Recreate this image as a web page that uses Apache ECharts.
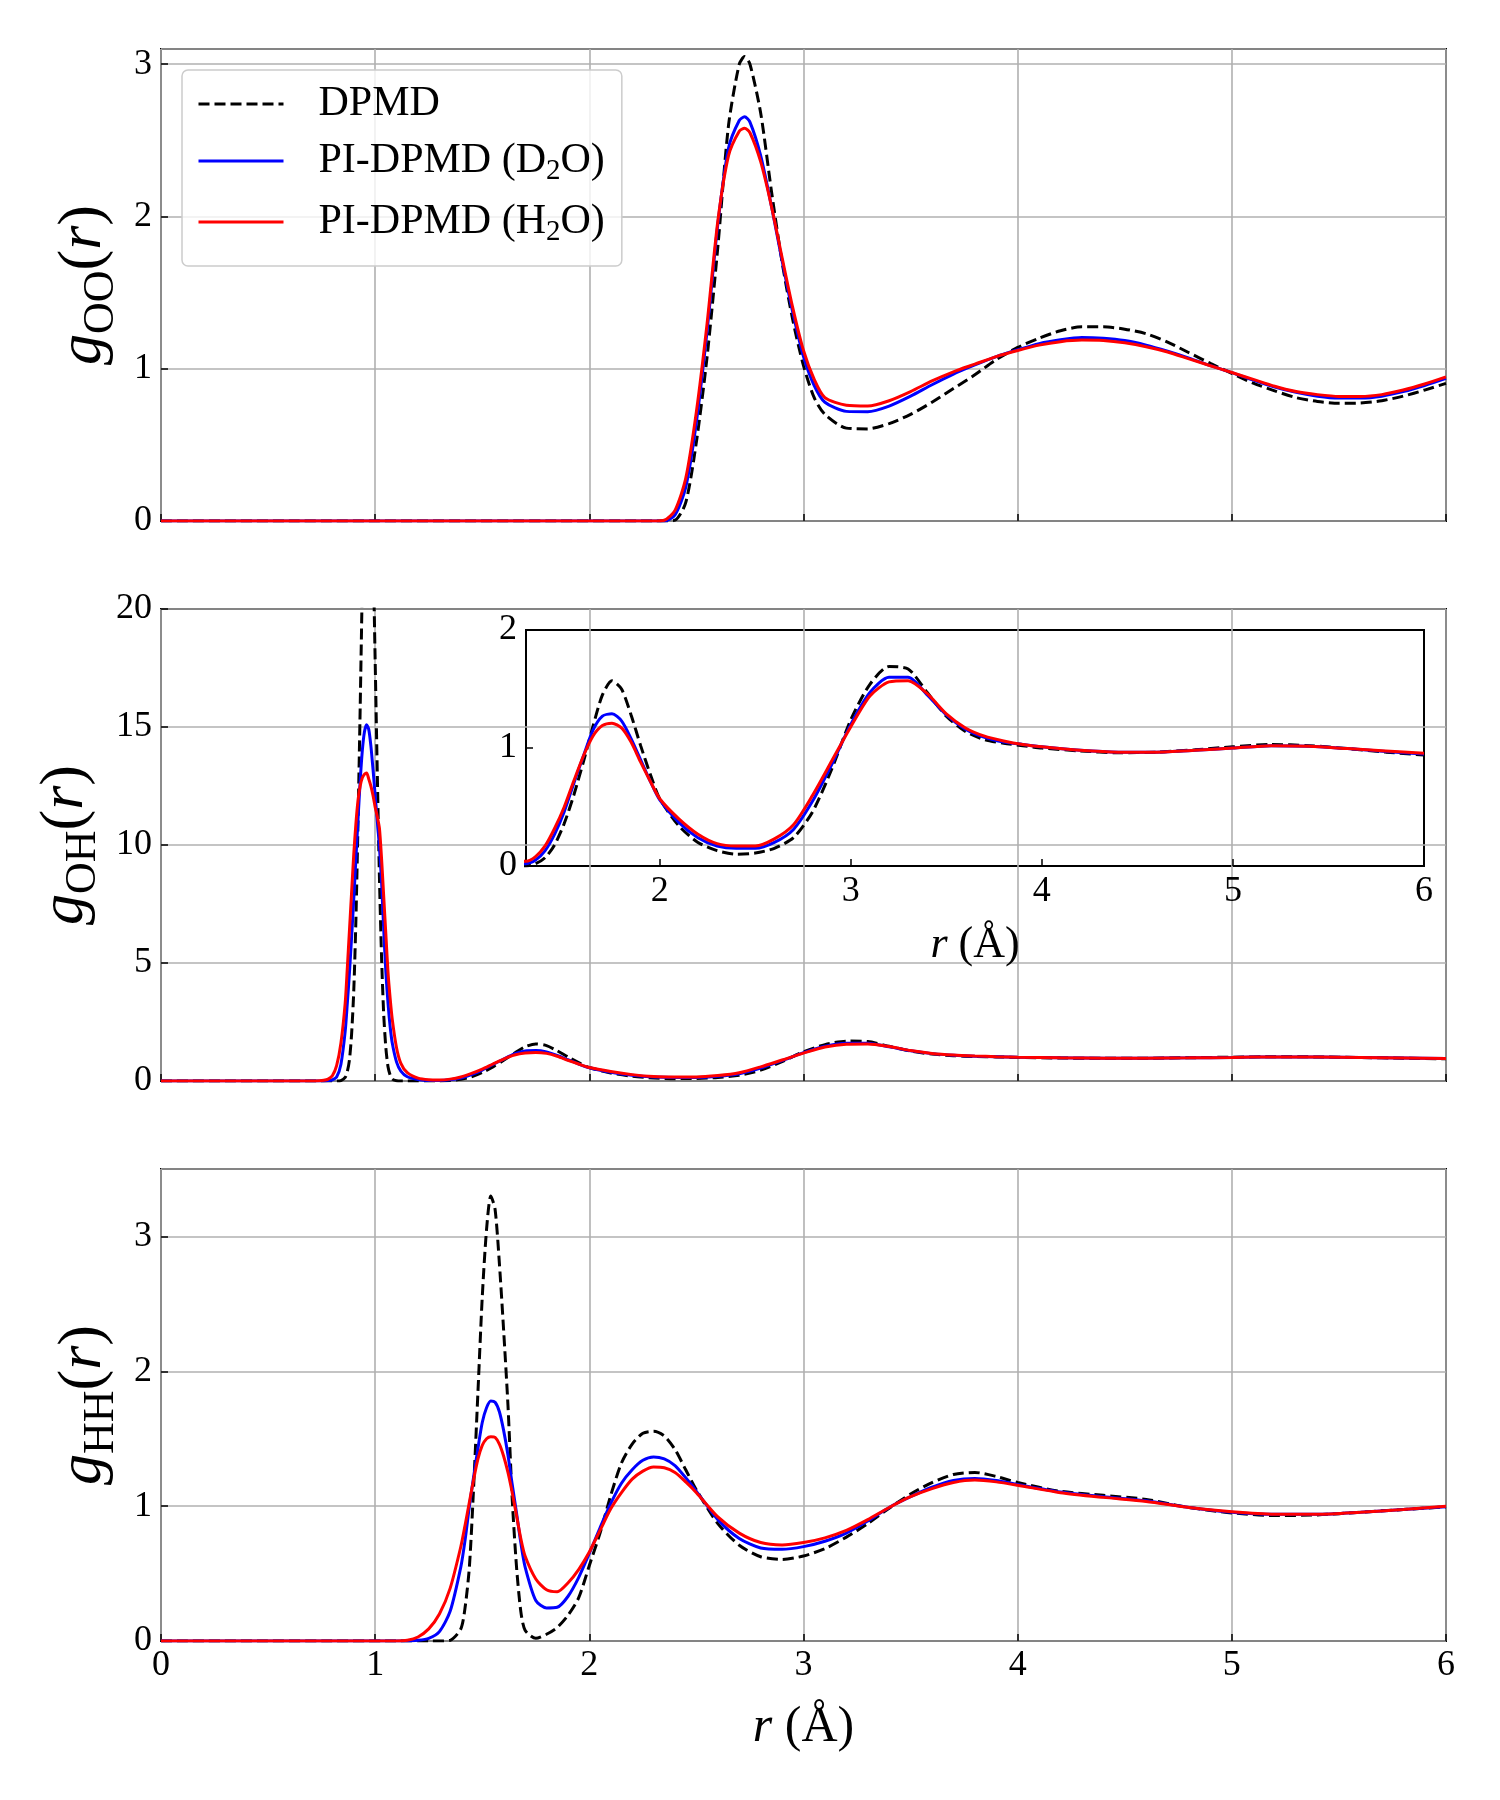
<!DOCTYPE html>
<html>
<head>
<meta charset="utf-8">
<title>Radial distribution functions of water</title>
<script src="https://cdn.jsdelivr.net/npm/echarts@6/dist/echarts.min.js"></script>
<style>
  html, body { margin: 0; padding: 0; background: #fff; }
  #chart { width: 1500px; height: 1800px; }
</style>
</head>
<body>
<div id="chart"></div>
<script>
// ---- data ----
const seriesNames = ['DPMD', 'PI-DPMD (D2O)', 'PI-DPMD (H2O)'];
const insetTicks = [2, 3, 4, 5, 6];

// g_OO(r)
const rOO = [0, 2.30, 2.35, 2.40, 2.45, 2.50, 2.55, 2.60, 2.65, 2.70, 2.725, 2.75, 2.80, 2.85, 2.90, 2.95,
  3.00, 3.05, 3.10, 3.20, 3.30, 3.40, 3.50, 3.60, 3.70, 3.80, 3.90, 4.00, 4.10, 4.20, 4.30, 4.40, 4.50,
  4.60, 4.70, 4.80, 4.90, 5.00, 5.10, 5.20, 5.30, 5.40, 5.50, 5.60, 5.70, 5.80, 5.90, 6.00];
const ooDPMD = [0, 0, 0, 0.005, 0.12, 0.52, 1.08, 1.8, 2.6, 3.0, 3.05, 3.0, 2.68, 2.17, 1.7, 1.32,
  1.02, 0.81, 0.7, 0.61, 0.605, 0.64, 0.7, 0.78, 0.87, 0.96, 1.06, 1.14, 1.2, 1.25, 1.275, 1.275, 1.26,
  1.23, 1.175, 1.105, 1.035, 0.97, 0.905, 0.855, 0.81, 0.785, 0.773, 0.775, 0.79, 0.82, 0.86, 0.904];
const ooD2O = [0, 0, 0, 0.04, 0.22, 0.65, 1.25, 1.95, 2.45, 2.63, 2.655, 2.62, 2.4, 2.07, 1.71, 1.37,
  1.08, 0.89, 0.78, 0.72, 0.718, 0.755, 0.82, 0.895, 0.965, 1.025, 1.08, 1.125, 1.165, 1.19, 1.205, 1.2, 1.185,
  1.155, 1.115, 1.07, 1.02, 0.975, 0.925, 0.88, 0.845, 0.82, 0.808, 0.808, 0.82, 0.85, 0.89, 0.937];
const ooH2O = [0, 0, 0.005, 0.07, 0.28, 0.72, 1.3, 1.97, 2.4, 2.56, 2.58, 2.55, 2.36, 2.07, 1.73, 1.4,
  1.12, 0.93, 0.81, 0.76, 0.755, 0.79, 0.85, 0.92, 0.98, 1.03, 1.08, 1.12, 1.155, 1.178, 1.188, 1.185, 1.17,
  1.145, 1.11, 1.065, 1.02, 0.975, 0.93, 0.885, 0.85, 0.83, 0.818, 0.818, 0.83, 0.86, 0.9, 0.947];

// g_OH(r)
const rOH = [0, 0.70, 0.74, 0.76, 0.78, 0.80, 0.82, 0.84, 0.86, 0.87, 0.88, 0.89, 0.90, 0.91, 0.92, 0.93,
  0.94, 0.95, 0.96, 0.97, 0.98, 0.99, 1.00, 1.01, 1.02, 1.03, 1.04, 1.05, 1.06, 1.07, 1.08, 1.10, 1.12,
  1.15, 1.20, 1.25, 1.30, 1.35, 1.40, 1.45, 1.50, 1.55, 1.60, 1.65, 1.70, 1.75, 1.80, 1.85, 1.90, 1.95,
  2.00, 2.10, 2.20, 2.30, 2.40, 2.50, 2.60, 2.70, 2.80, 2.90, 3.00, 3.10, 3.20, 3.30, 3.40, 3.50, 3.60,
  3.70, 3.80, 3.90, 4.00, 4.20, 4.40, 4.60, 4.80, 5.00, 5.20, 5.40, 5.60, 5.80, 6.00];
const ohDPMD = [0, 0, 0, 0, 0, 0, 0, 0.02, 0.15, 0.4, 0.9, 2.0, 3.8, 6.8, 11.0, 15.8,
  21.0, 25.3, 27.8, 28.0, 26.2, 22.5, 17.8, 13.0, 8.6, 5.2, 2.8, 1.4, 0.6, 0.25, 0.08, 0.01, 0,
  0, 0, 0, 0, 0.02, 0.07, 0.18, 0.36, 0.6, 0.88, 1.18, 1.45, 1.57, 1.5, 1.28, 1.02, 0.78,
  0.57, 0.34, 0.2, 0.13, 0.1, 0.11, 0.15, 0.24, 0.46, 0.82, 1.24, 1.54, 1.69, 1.67, 1.47, 1.27, 1.14,
  1.07, 1.04, 1.02, 1.0, 0.975, 0.96, 0.965, 0.985, 1.01, 1.03, 1.02, 0.995, 0.965, 0.94];
const ohD2O = [0, 0, 0, 0.005, 0.02, 0.05, 0.17, 0.7, 2.1, 3.3, 4.6, 6.1, 7.7, 9.4, 11.1, 12.7,
  14.0, 14.8, 15.1, 14.9, 14.2, 13.2, 12.1, 11.0, 9.9, 8.4, 6.4, 4.6, 3.3, 2.3, 1.6, 0.8, 0.42,
  0.18, 0.06, 0.02, 0.02, 0.05, 0.13, 0.27, 0.46, 0.7, 0.93, 1.15, 1.27, 1.29, 1.23, 1.08, 0.9, 0.72,
  0.56, 0.37, 0.24, 0.17, 0.15, 0.15, 0.2, 0.31, 0.55, 0.86, 1.2, 1.47, 1.6, 1.6, 1.45, 1.28, 1.16,
  1.09, 1.05, 1.03, 1.01, 0.98, 0.965, 0.965, 0.98, 1.0, 1.02, 1.015, 0.995, 0.97, 0.95];
const ohH2O = [0, 0, 0.01, 0.03, 0.08, 0.22, 0.65, 1.6, 3.3, 4.8, 6.4, 8.0, 9.6, 10.9, 11.9, 12.5,
  12.85, 13.0, 13.05, 12.8, 12.5, 12.1, 11.6, 11.2, 10.7, 9.4, 7.8, 6.2, 4.6, 3.5, 2.6, 1.4, 0.75,
  0.35, 0.12, 0.05, 0.04, 0.08, 0.17, 0.32, 0.5, 0.72, 0.93, 1.1, 1.19, 1.21, 1.17, 1.05, 0.88, 0.72,
  0.57, 0.4, 0.27, 0.19, 0.17, 0.17, 0.23, 0.35, 0.6, 0.89, 1.18, 1.44, 1.56, 1.57, 1.46, 1.29, 1.17,
  1.1, 1.06, 1.03, 1.01, 0.98, 0.965, 0.965, 0.98, 1.0, 1.02, 1.015, 0.995, 0.975, 0.955];

// g_HH(r)
const rHH = [0, 1.10, 1.15, 1.20, 1.25, 1.30, 1.35, 1.40, 1.42, 1.44, 1.46, 1.48, 1.50, 1.52, 1.54, 1.56,
  1.58, 1.60, 1.62, 1.64, 1.66, 1.68, 1.70, 1.75, 1.80, 1.85, 1.90, 1.95, 2.00, 2.05, 2.10, 2.15, 2.20,
  2.25, 2.30, 2.35, 2.40, 2.45, 2.50, 2.60, 2.70, 2.80, 2.90, 3.00, 3.10, 3.20, 3.30, 3.40, 3.50, 3.60,
  3.70, 3.80, 3.90, 4.00, 4.20, 4.40, 4.60, 4.80, 5.00, 5.20, 5.40, 5.60, 5.80, 6.00];
const hhDPMD = [0, 0, 0, 0, 0, 0, 0.005, 0.09, 0.25, 0.55, 1.15, 1.85, 2.55, 3.05, 3.3, 3.2,
  2.8, 2.3, 1.75, 1.05, 0.55, 0.22, 0.08, 0.02, 0.05, 0.1, 0.19, 0.32, 0.56, 0.8, 1.08, 1.32, 1.46,
  1.54, 1.555, 1.52, 1.42, 1.27, 1.12, 0.87, 0.71, 0.625, 0.605, 0.63, 0.685, 0.77, 0.87, 0.985, 1.09, 1.175,
  1.235, 1.25, 1.22, 1.175, 1.11, 1.08, 1.05, 0.99, 0.95, 0.93, 0.935, 0.955, 0.975, 0.995];
const hhD2O = [0, 0, 0, 0.005, 0.02, 0.07, 0.22, 0.55, 0.75, 1.0, 1.22, 1.43, 1.62, 1.73, 1.78, 1.77,
  1.7, 1.56, 1.38, 1.16, 0.95, 0.73, 0.55, 0.3, 0.245, 0.25, 0.33, 0.47, 0.65, 0.84, 1.02, 1.17, 1.27,
  1.34, 1.365, 1.35, 1.3, 1.21, 1.11, 0.9, 0.76, 0.69, 0.68, 0.7, 0.74, 0.8, 0.89, 0.99, 1.07, 1.14,
  1.19, 1.205, 1.19, 1.16, 1.105, 1.07, 1.04, 0.99, 0.955, 0.94, 0.94, 0.955, 0.975, 0.995];
const hhH2O = [0, 0, 0.005, 0.03, 0.09, 0.2, 0.39, 0.7, 0.86, 1.03, 1.2, 1.35, 1.45, 1.5, 1.515, 1.51,
  1.46, 1.37, 1.25, 1.1, 0.93, 0.76, 0.63, 0.46, 0.38, 0.365, 0.43, 0.53, 0.66, 0.82, 0.98, 1.1, 1.2,
  1.26, 1.29, 1.285, 1.25, 1.18, 1.1, 0.92, 0.8, 0.73, 0.712, 0.73, 0.765, 0.82, 0.9, 0.99, 1.07, 1.13,
  1.175, 1.193, 1.18, 1.155, 1.1, 1.065, 1.035, 0.99, 0.958, 0.94, 0.94, 0.955, 0.975, 1.0];

// ---- chart ----
const FONT = 'Liberation Serif';
const colors = ['#000000', '#0000ff', '#ff0000'];
const dashes = [[11, 5], 'solid', 'solid'];

const pairs = (r, g) => r.map((x, i) => [x, g[i]]);

function curve(k, r, g, axis) {
  return {
    name: seriesNames[k],
    type: 'line',
    xAxisIndex: axis,
    yAxisIndex: axis,
    data: pairs(r, g),
    symbol: 'none',
    smooth: 0.25,
    clip: true,
    lineStyle: { color: colors[k], width: 3, type: dashes[k] },
    itemStyle: { color: colors[k] },
    z: 3 + k,
  };
}

const tickStyle = { show: true, inside: true, length: 7, lineStyle: { color: '#000', width: 1.5 } };
const gridLine = { show: true, lineStyle: { color: '#b0b0b0', width: 1.6 } };
const panelGrid = { left: 161, width: 1285, height: 472, show: true, borderColor: '#000', borderWidth: 2, backgroundColor: 'transparent' };

const yRich = {
  g: { fontFamily: FONT, fontStyle: 'italic', fontSize: 62, lineHeight: 78, color: '#000' },
  s: { fontFamily: FONT, fontSize: 44, verticalAlign: 'bottom', color: '#000' },
  p: { fontFamily: FONT, fontSize: 62, lineHeight: 78, color: '#000' },
  r: { fontFamily: FONT, fontStyle: 'italic', fontSize: 62, lineHeight: 78, color: '#000' },
};
const yName = sub => `{g|g}{s|${sub}}{p|(}{r|r}{p|)}`;

function xAxis(gridIndex, showLabels, name) {
  return {
    type: 'value', gridIndex, min: 0, max: 6, interval: 1,
    axisLine: { show: false },
    axisTick: tickStyle,
    axisLabel: { show: showLabels, fontFamily: FONT, fontSize: 36, color: '#000', margin: 7 },
    splitLine: gridLine,
    name: name || '',
    nameLocation: 'middle',
    nameGap: 62,
    nameTextStyle: {
      fontFamily: FONT, fontSize: 50, color: '#000',
      rich: {
        r: { fontFamily: FONT, fontStyle: 'italic', fontSize: 50, color: '#000' },
        p: { fontFamily: FONT, fontSize: 50, color: '#000' },
      },
    },
  };
}

function yAxis(gridIndex, max, interval, sub, gap) {
  return {
    type: 'value', gridIndex, min: 0, max, interval,
    axisLine: { show: false },
    axisTick: tickStyle,
    axisLabel: { fontFamily: FONT, fontSize: 36, color: '#000', margin: 9, showMaxLabel: max % interval === 0 },
    splitLine: gridLine,
    name: yName(sub),
    nameLocation: 'middle',
    nameRotate: 90,
    nameGap: gap,
    nameTextStyle: { rich: yRich },
  };
}

const chart = echarts.init(document.getElementById('chart'), null, { renderer: 'canvas' });

chart.setOption({
  animation: false,
  backgroundColor: '#ffffff',
  grid: [
    Object.assign({ top: 49 }, panelGrid),
    Object.assign({ top: 609 }, panelGrid),
    Object.assign({ top: 1169 }, panelGrid),
    { left: 526, width: 898, top: 630, height: 236, show: true, borderColor: '#000', borderWidth: 2, backgroundColor: 'transparent' },
  ],
  xAxis: [
    xAxis(0, false),
    xAxis(1, false),
    xAxis(2, true, '{r|r} {p|(Å)}'),
    {
      type: 'value', gridIndex: 3, min: 1.3, max: 6,
      axisLine: { show: false },
      axisTick: Object.assign({ customValues: insetTicks }, tickStyle),
      axisLabel: { customValues: insetTicks, fontFamily: FONT, fontSize: 36, color: '#000', margin: 8 },
      splitLine: { show: false },
      name: '{r|r} {p|(Å)}',
      nameLocation: 'middle',
      nameGap: 57,
      nameTextStyle: {
        fontFamily: FONT, fontSize: 44, color: '#000',
        rich: {
          r: { fontFamily: FONT, fontStyle: 'italic', fontSize: 44, color: '#000' },
          p: { fontFamily: FONT, fontSize: 44, color: '#000' },
        },
      },
    },
  ],
  yAxis: [
    yAxis(0, 3.1, 1, 'OO', 26),
    yAxis(1, 20, 5, 'OH', 44),
    yAxis(2, 3.5, 1, 'HH', 27),
    {
      type: 'value', gridIndex: 3, min: 0, max: 2, interval: 1,
      axisLine: { show: false },
      axisTick: tickStyle,
      axisLabel: { fontFamily: FONT, fontSize: 36, color: '#000', margin: 9 },
      splitLine: { show: false },
    },
  ],
  legend: {
    data: seriesNames,
    orient: 'vertical',
    left: 182,
    top: 70,
    padding: [13, 17, 19, 15],
    itemWidth: 85,
    itemHeight: 20,
    itemGap: 15,
    backgroundColor: 'rgba(255,255,255,0.8)',
    borderColor: '#cccccc',
    borderWidth: 1.5,
    borderRadius: 6,
    // line sample only, no marker in the key
    itemStyle: { color: 'rgba(0,0,0,0)', borderWidth: 0, opacity: 0 },
    lineStyle: { width: 3 },
    formatter: name => {
      if (name === 'DPMD') return '{gap| }{t|DPMD}';
      const atom = name.indexOf('D2O') >= 0 ? 'D' : 'H';
      return `{gap| }{t|PI-DPMD (${atom}}{s|2}{t|O)}`;
    },
    textStyle: {
      fontFamily: FONT, fontSize: 42, color: '#000',
      rich: {
        gap: { width: 30 },
        t: { fontFamily: FONT, fontSize: 42, lineHeight: 50, color: '#000' },
        s: { fontFamily: FONT, fontSize: 29, verticalAlign: 'bottom', color: '#000' },
      },
    },
  },
  series: [
    curve(0, rOO, ooDPMD, 0), curve(1, rOO, ooD2O, 0), curve(2, rOO, ooH2O, 0),
    curve(0, rOH, ohDPMD, 1), curve(1, rOH, ohD2O, 1), curve(2, rOH, ohH2O, 1),
    curve(0, rHH, hhDPMD, 2), curve(1, rHH, hhD2O, 2), curve(2, rHH, hhH2O, 2),
    curve(0, rOH, ohDPMD, 3), curve(1, rOH, ohD2O, 3), curve(2, rOH, ohH2O, 3),
  ],
});

window.addEventListener('resize', () => chart.resize());
</script>
</body>
</html>
